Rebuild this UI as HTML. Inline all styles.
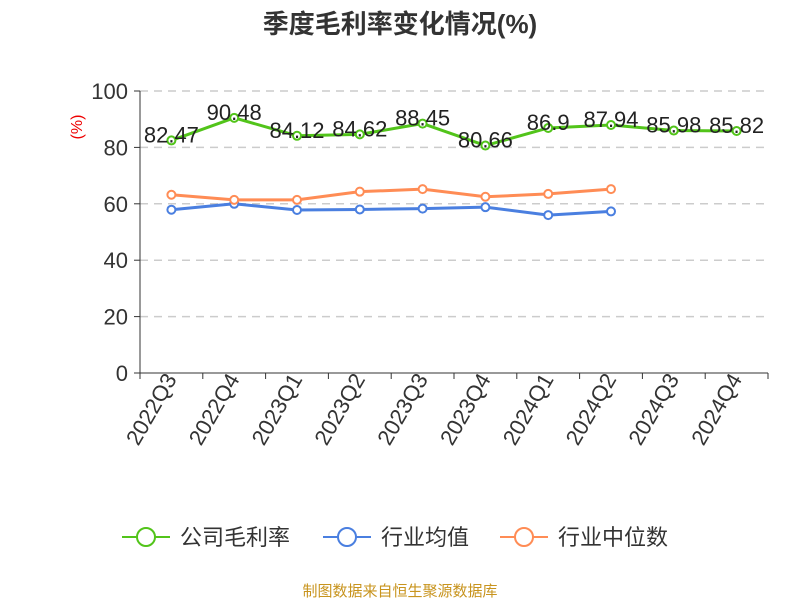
<!DOCTYPE html>
<html><head><meta charset="utf-8"><style>
body{margin:0;background:#fff;font-family:"Liberation Sans","Noto Sans CJK SC",sans-serif}
</style></head><body>
<svg width="800" height="600" xmlns="http://www.w3.org/2000/svg" font-family="Liberation Sans, Noto Sans CJK SC, sans-serif">
<text x="400" y="33" text-anchor="middle" font-size="26" font-weight="bold" fill="#333">季度毛利率变化情况(%)</text>
<text transform="translate(82,127) rotate(-90)" text-anchor="middle" font-size="16" fill="#e00">(%)</text>
<g id="grid"></g><g id="xaxis"></g><g id="series"></g>
<g font-size="22" fill="#333">
<g><line x1="122" y1="537" x2="170" y2="537" stroke="#52c41a" stroke-width="2"/><circle cx="146" cy="537" r="9" fill="#fff" stroke="#52c41a" stroke-width="2"/><text x="180" y="545">公司毛利率</text></g>
<g><line x1="323" y1="537" x2="371" y2="537" stroke="#4a7fe0" stroke-width="2"/><circle cx="347" cy="537" r="9" fill="#fff" stroke="#4a7fe0" stroke-width="2"/><text x="381" y="545">行业均值</text></g>
<g><line x1="500" y1="537" x2="548" y2="537" stroke="#ff8c55" stroke-width="2"/><circle cx="524" cy="537" r="9" fill="#fff" stroke="#ff8c55" stroke-width="2"/><text x="558" y="545">行业中位数</text></g>
</g>
<text x="400" y="596" text-anchor="middle" font-size="15" fill="#c8941e">制图数据来自恒生聚源数据库</text>
</svg>
<script>
const categories=["2022Q3","2022Q4","2023Q1","2023Q2","2023Q3","2023Q4","2024Q1","2024Q2","2024Q3","2024Q4"];
const companyValues=[82.47,90.48,84.12,84.62,88.45,80.66,86.9,87.94,85.98,85.82];
const avgValues=[57.9,60,57.8,58,58.3,58.8,56,57.3];
const medianValues=[63.2,61.4,61.4,64.3,65.2,62.5,63.5,65.2];
const yTicks=[0,20,40,60,80,100];
const NS="http://www.w3.org/2000/svg";
const X0=140,X1=768,Y0=373,YT=91;
const bw=(X1-X0)/categories.length;
const xs=i=>X0+bw*(i+0.5);
const ys=v=>Y0-(v/100)*(Y0-YT);
function mk(t,a,p){const e=document.createElementNS(NS,t);for(const k in a)e.setAttribute(k,a[k]);p.appendChild(e);return e;}
const grid=document.getElementById('grid');
yTicks.forEach(v=>{
  if(v>0){const l=mk('line',{x1:X0,x2:X1,y1:ys(v),y2:ys(v),stroke:'#ccc','stroke-dasharray':'8,6','stroke-width':1.5},grid);
  
  }
  const t=mk('text',{x:X0-12,y:ys(v)+8,'text-anchor':'end','font-size':22,fill:'#333'},grid);t.textContent=v;
  
  
  mk('line',{x1:X0-6,x2:X0,y1:ys(v),y2:ys(v),stroke:'#333'},grid);
});
const xa=document.getElementById('xaxis');
const yl=mk('line',{x1:X0,x2:X0,y1:YT,y2:Y0,stroke:'#333'},xa);


const xl=mk('line',{x1:X0,x2:X1,y1:Y0,y2:Y0,stroke:'#333'},xa);


for(let i=0;i<=categories.length;i++)mk('line',{x1:X0+bw*i,x2:X0+bw*i,y1:Y0,y2:Y0+6,stroke:'#333'},xa);
categories.forEach((c,i)=>{
  const t=mk('text',{transform:`translate(${xs(i)+6},${Y0+6}) rotate(-60)`,'text-anchor':'end','font-size':22,fill:'#333'},xa);t.textContent=c;
  
  
});
const sg=document.getElementById('series');
function series(vals,color,name,labels){
  const g=mk('g',{},sg);
  
  
  mk('polyline',{points:vals.map((v,i)=>xs(i)+','+ys(v)).join(' '),fill:'none',stroke:color,'stroke-width':3},g);
  vals.forEach((v,i)=>{
    const c=mk('circle',{cx:xs(i),cy:ys(v),r:4,fill:'#fff',stroke:color,'stroke-width':2},g);
    
    
    if(labels){const t=mk('text',{x:xs(i),y:ys(v)+2,'text-anchor':'middle','font-size':22,fill:'#222'},g);t.textContent=v;
      
      }
  });
}
series(avgValues,'#4a7fe0','industry-avg-line',false);
series(medianValues,'#ff8c55','industry-median-line',false);
series(companyValues,'#52c41a','company-margin-line',true);
</script>
</body></html>
